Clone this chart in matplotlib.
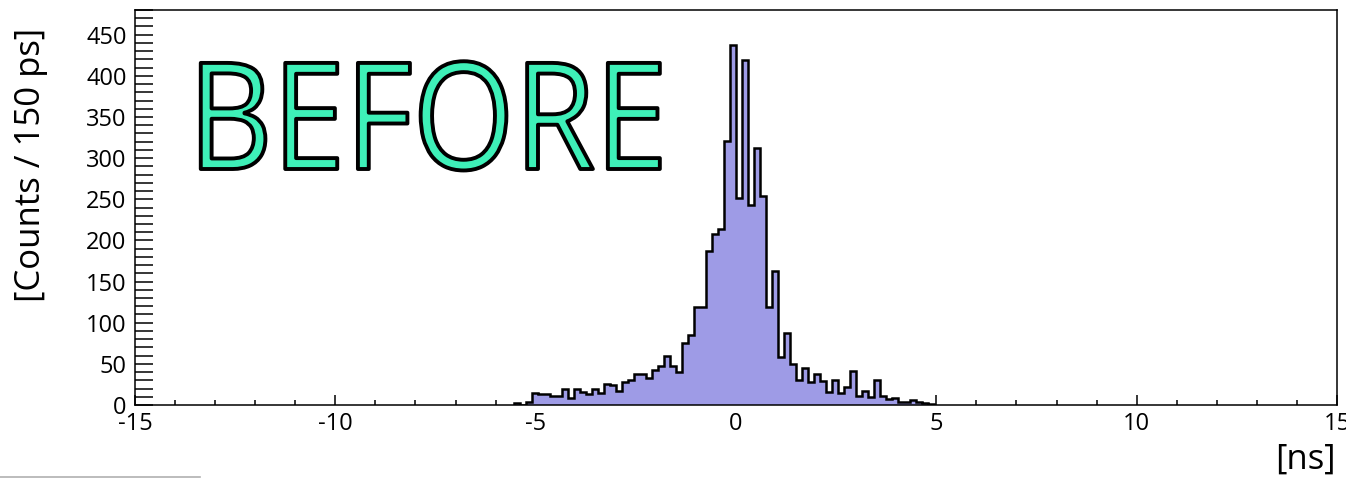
import numpy as np
import matplotlib
matplotlib.use("Agg")
import matplotlib.pyplot as plt
from matplotlib import patheffects
from matplotlib.transforms import Affine2D
from matplotlib.lines import Line2D
from matplotlib.ticker import MultipleLocator

plt.rcParams['font.family'] = ['Open Sans', 'DejaVu Sans']
plt.rcParams['axes.unicode_minus'] = False

# Histogram: 150 ps bins, only the non-empty part (first bin starts at -5.55 ns)
bin_width = 0.15
first_edge = -5.55
counts = [2, 0, 4, 15, 13, 13, 11, 11, 19, 8,
          19, 16, 13, 19, 14, 26, 24, 17, 28, 30,
          38, 38, 33, 42, 47, 59, 47, 40, 75, 85,
          119, 119, 187, 208, 214, 321, 438, 251, 419, 243,
          312, 254, 119, 163, 58, 87, 50, 30, 45, 28,
          38, 29, 16, 30, 14, 22, 41, 11, 17, 10,
          30, 11, 7, 8, 4, 4, 6, 4, 2, 1]

x_range = [-15, 15]
y_range = [0, 480]
y_title = "[Counts / 150 ps]"
x_title = "[ns]"
stamp = "BEFORE"


class Squeeze(patheffects.AbstractPathEffect):
    """Draws the text path narrower (x scaled by sx) with an outline."""
    def __init__(self, sx, lw, ec):
        super().__init__()
        self._sx = sx
        self._lw = lw
        self._ec = ec

    def draw_path(self, renderer, gc, tpath, affine, rgbFace=None):
        gc0 = renderer.new_gc()
        gc0.copy_properties(gc)
        gc0.set_linewidth(self._lw)
        gc0.set_foreground(self._ec)
        renderer.draw_path(gc0, tpath, Affine2D().scale(self._sx, 1.0) + affine, rgbFace)
        gc0.restore()


W, H = 1346, 479
fig = plt.figure(figsize=(W/100, H/100), dpi=100)
ax = fig.add_axes([135/W, 1 - 405/H, (1337 - 135)/W, (405 - 10)/H])

edges = first_edge + bin_width*np.arange(len(counts) + 1)
ax.stairs(counts, edges, fill=True, color="#9e9be6", zorder=2)
ax.stairs(counts, edges, color="black", linewidth=1.8, zorder=3)

ax.set_xlim(x_range)
ax.set_ylim(y_range)

ax.xaxis.set_major_locator(MultipleLocator(5))
ax.xaxis.set_minor_locator(MultipleLocator(1))
ax.yaxis.set_major_locator(MultipleLocator(50))
ax.yaxis.set_minor_locator(MultipleLocator(10))
ax.yaxis.set_major_formatter(lambda v, p: "%d" % v if v <= 450 else "")

ax.tick_params(axis="x", which="major", direction="in", length=7.2, width=1.1,
               labelsize=17, pad=5)
ax.tick_params(axis="x", which="minor", direction="in", length=3.3, width=1.1)
ax.tick_params(axis="y", which="both", direction="in", length=13, width=1.1,
               labelsize=17, pad=6)
for s in ax.spines.values():
    s.set_linewidth(1.1)

fig.text(31/W, 1 - 28/H, y_title, rotation=90, fontsize=25, ha="center", va="top")
fig.text(1336/W, 1 - 460/H, x_title, fontsize=25, ha="right", va="center")

fig.text(188/W, 1 - 169/H, stamp, fontsize=107, color="#3ef0b8",
         ha="left", va="baseline",
         path_effects=[Squeeze(0.88, 2.8, "black")])

fig.add_artist(Line2D([0, 200/W], [1 - 477/H]*2, color="#b0b0b0", lw=1.2))

fig.savefig("out.png", dpi=100)
